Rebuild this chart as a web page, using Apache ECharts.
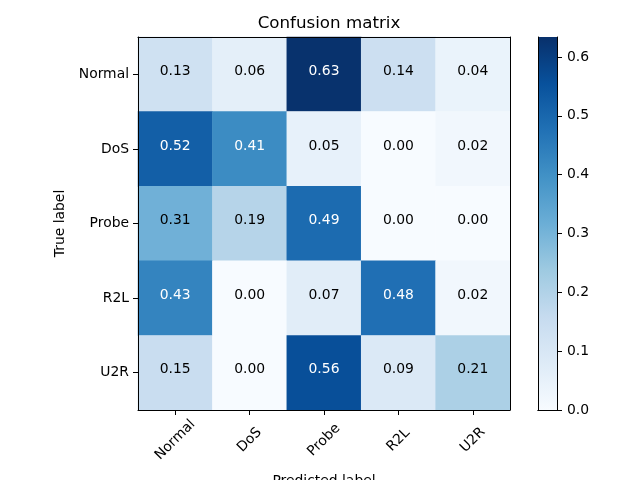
<!DOCTYPE html>
<html><head><meta charset="utf-8">
<script src="https://cdn.jsdelivr.net/npm/echarts@6/dist/echarts.min.js"></script>
<style>html,body{margin:0;padding:0;background:#fff}#c{width:640px;height:480px}</style>
</head><body><div id="c"></div>
<script>
const predictedLabels = ['Normal', 'DoS', 'Probe', 'R2L', 'U2R'];
const trueLabels = ['Normal', 'DoS', 'Probe', 'R2L', 'U2R'];
const rowNormal = [0.13, 0.06, 0.63, 0.14, 0.04];
const rowDoS    = [0.52, 0.41, 0.05, 0.00, 0.02];
const rowProbe  = [0.31, 0.19, 0.49, 0.00, 0.00];
const rowR2L    = [0.43, 0.00, 0.07, 0.48, 0.02];
const rowU2R    = [0.15, 0.00, 0.56, 0.09, 0.21];
const colorbarTicks = [0, 0.1, 0.2, 0.3, 0.4, 0.5, 0.6];
const vmax = 0.634;

const rows = [rowNormal, rowDoS, rowProbe, rowR2L, rowU2R];
const data = [];
rows.forEach((r, i) => r.forEach((v, j) => data.push([j, i, v])));

const blues = ['#f7fbff','#deebf7','#c6dbef','#9ecae1','#6baed6','#4292c6','#2171b5','#08519c','#08306b'];
const FONT = 'DejaVu Sans';
const FS = 13.9;
const frame = {show: true, lineStyle: {color: '#000', width: 1}};

const chart = echarts.init(document.getElementById('c'), null, {renderer: 'canvas'});
chart.setOption({
  animation: false,
  title: {
    text: 'Confusion matrix', left: 324, top: 10, textAlign: 'center',
    textStyle: {fontFamily: FONT, fontSize: 16.7, fontWeight: 'normal', color: '#000'}
  },
  grid: [
    {left: 138, top: 37, width: 372, height: 373, outerBoundsMode: 'none', containLabel: false},
    {left: 538, top: 37, width: 19, height: 373, outerBoundsMode: 'none', containLabel: false}
  ],
  xAxis: [
    {type: 'category', gridIndex: 0, data: predictedLabels, position: 'bottom', z: 10,
     axisLine: frame,
     axisTick: {show: true, alignWithLabel: true, length: 5, lineStyle: {color: '#000'}},
     axisLabel: {rotate: 45, align: 'center', verticalAlign: 'middle', margin: 30, fontFamily: FONT, fontSize: FS, color: '#000'},
     name: 'Predicted label', nameLocation: 'middle', nameGap: 64,
     nameTextStyle: {fontFamily: FONT, fontSize: FS, color: '#000'},
     splitLine: {show: false}},
    {type: 'category', gridIndex: 0, data: predictedLabels, position: 'top', z: 10,
     axisLine: frame, axisTick: {show: false}, axisLabel: {show: false}, splitLine: {show: false}},
    {type: 'category', gridIndex: 1, data: [''], position: 'bottom', z: 10,
     axisLine: frame, axisTick: {show: false}, axisLabel: {show: false}, splitLine: {show: false}},
    {type: 'category', gridIndex: 1, data: [''], position: 'top', z: 10,
     axisLine: frame, axisTick: {show: false}, axisLabel: {show: false}, splitLine: {show: false}}
  ],
  yAxis: [
    {type: 'category', gridIndex: 0, data: trueLabels, inverse: true, position: 'left', z: 10,
     axisLine: frame,
     axisTick: {show: true, alignWithLabel: true, length: 5, lineStyle: {color: '#000'}},
     axisLabel: {margin: 9, fontFamily: FONT, fontSize: FS, color: '#000'},
     name: 'True label', nameLocation: 'middle', nameGap: 58, nameRotate: 90,
     nameTextStyle: {fontFamily: FONT, fontSize: FS, color: '#000'},
     splitLine: {show: false}},
    {type: 'category', gridIndex: 0, data: trueLabels, inverse: true, position: 'right', z: 10,
     axisLine: frame, axisTick: {show: false}, axisLabel: {show: false}, splitLine: {show: false}},
    {type: 'value', gridIndex: 1, min: 0, max: vmax, interval: 0.1, position: 'right', z: 10,
     axisLine: frame,
     axisTick: {show: true, length: 5, lineStyle: {color: '#000'}, customValues: colorbarTicks},
     axisLabel: {margin: 10, fontFamily: FONT, fontSize: FS, color: '#000',
       customValues: colorbarTicks, formatter: v => v.toFixed(1)},
     splitLine: {show: false}},
    {type: 'value', gridIndex: 1, min: 0, max: vmax, position: 'left', z: 10,
     axisLine: frame, axisTick: {show: false}, axisLabel: {show: false}, splitLine: {show: false}}
  ],
  visualMap: {
    show: false, type: 'continuous', min: 0, max: vmax, seriesIndex: 0,
    inRange: {color: blues}
  },
  series: [
    {type: 'heatmap', xAxisIndex: 0, yAxisIndex: 0, data: data,
     itemStyle: {borderWidth: 0},
     label: {show: true, fontFamily: FONT, fontSize: FS, offset: [0, -3],
       formatter: p => {
         const v = p.value[2];
         return (v > vmax / 2 ? '{w|' : '{b|') + v.toFixed(2) + '}';
       },
       rich: {
         w: {color: '#fff', fontFamily: FONT, fontSize: FS},
         b: {color: '#000', fontFamily: FONT, fontSize: FS}
       }},
     emphasis: {disabled: true}},
    {type: 'bar', xAxisIndex: 2, yAxisIndex: 2, data: [vmax], barWidth: '100%', silent: true,
     itemStyle: {
       color: new echarts.graphic.LinearGradient(0, 1, 0, 0,
         blues.map((c, i) => ({offset: i / (blues.length - 1), color: c})))
     }}
  ]
});
</script>
</body></html>
